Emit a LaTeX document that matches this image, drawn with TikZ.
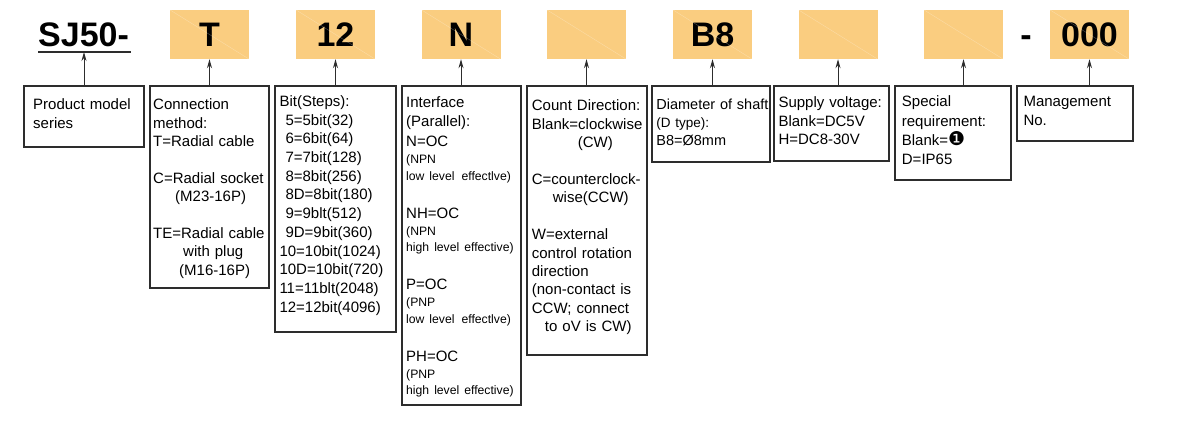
\documentclass[tikz,border=0pt]{standalone}
\usepackage{fontspec}
\setmainfont{Liberation Sans}
\newfontfamily\dingfont{DejaVu Sans}
\usetikzlibrary{arrows.meta}

\definecolor{codefill}{RGB}{250,205,128}
\definecolor{lineclr}{RGB}{45,45,45}

\newcommand{\bodyfont}{\fontsize{15}{18.5}\selectfont}
\newcommand{\smallfont}{\fontsize{12.2}{18.5}\selectfont}
\newcommand{\codefont}{\fontsize{34}{40}\selectfont\bfseries}

\begin{document}
\begin{tikzpicture}[x=1pt,y=-1pt]
\path[use as bounding box,fill=white] (0,0) rectangle (1182,427);

% model code
\node[anchor=base west,inner sep=0,font=\codefont] (sj) at (38,46.7) {SJ50-};
\coordinate (ulL) at (38,52);
\coordinate (ulM) at (84,52);
\coordinate (ulR) at (131,52);
\draw[lineclr,line width=1.3pt] (ulL) -- (ulR);
\begin{scope}[every node/.style={fill=codefill,minimum width=79pt,minimum height=49pt,inner sep=0,font=\codefont}]
    \node (cT) at (209.5,34.5) {T};
    \node (c12) at (335.5,34.5) {12};
    \node (cN) at (461,34.5) {N};
    \node (cDir) at (586.5,34.5) {};
    \node (cB8) at (712.5,34.5) {B8};
    \node (cVolt) at (838,34.5) {};
    \node (cSpec) at (963.5,34.5) {};
    \node (c000) at (1089.5,34.5) {000};
\end{scope}
\node[anchor=base,inner sep=0,font=\codefont] (dash) at (1026,46.7) {-};
\foreach \c in {cT,c12,cN,cDir,cB8,cVolt,cSpec,c000}
    \draw[white,opacity=.3] (\c.north west) -- (\c.south east);

% description boxes
\begin{scope}[every node/.style={draw=lineclr,line width=1.2pt,anchor=north west,inner sep=0,outer sep=0}]
    \node[minimum width=120pt,minimum height=61pt] (bSeries) at (24,86) {};
    \node[minimum width=119pt,minimum height=202pt] (bConn) at (150,86) {};
    \node[minimum width=121pt,minimum height=246pt] (bBits) at (275,86) {};
    \node[minimum width=119pt,minimum height=319pt] (bIface) at (402,86) {};
    \node[minimum width=120pt,minimum height=269pt] (bDir) at (527,86) {};
    \node[minimum width=118pt,minimum height=76pt] (bShaft) at (652,86) {};
    \node[minimum width=115pt,minimum height=75pt] (bVolt) at (774,86) {};
    \node[minimum width=116pt,minimum height=94pt] (bSpec) at (895,86) {};
    \node[minimum width=116pt,minimum height=55pt] (bMgmt) at (1017,86) {};
\end{scope}

\begin{scope}[every node/.style={anchor=base west,inner sep=0,text width=140pt,align=left,font=\bodyfont}]
    \node (tSeries) at (33,110) {Product model\\series};
    \node (tConn) at (153,110) {Connection\\method:\\T=Radial cable\\[18pt]
        C=Radial socket\\\hspace*{22pt}(M23-16P)\\[18pt]
        TE=Radial cable\\\hspace*{30pt}with plug\\\hspace*{26pt}(M16-16P)};
    \node[font=\fontsize{15}{18.7}\selectfont] (tBits) at (279.3,106.5) {Bit(Steps):\\
        \hspace*{6pt}5=5bit(32)\\\hspace*{6pt}6=6bit(64)\\\hspace*{6pt}7=7bit(128)\\
        \hspace*{6pt}8=8bit(256)\\\hspace*{6pt}8D=8bit(180)\\\hspace*{6pt}9=9blt(512)\\
        \hspace*{6pt}9D=9bit(360)\\10=10bit(1024)\\10D=10bit(720)\\
        11=11blt(2048)\\12=12bit(4096)};
    \node (tIface) at (406,107.3) {Interface\\[1pt]
        (Parallel):\\[1.5pt]
        N=OC\\[-1.5pt]
        {\smallfont (NPN\\[-2pt]low level\hspace{2pt} effectlve)}\\[19.5pt]
        NH=OC\\[-1.5pt]
        {\smallfont (NPN\\[-2pt]high level effective)}\\[19.5pt]
        P=OC\\[-1.5pt]
        {\smallfont (PNP\\[-2pt]low level\hspace{2pt} effectlve)}\\[19.5pt]
        PH=OC\\[-1.5pt]
        {\smallfont (PNP\\[-2pt]high level effective)}};
    \node[font=\fontsize{15}{18.4}\selectfont] (tDir) at (531.7,111) {Count Direction:\\
        Blank=clockwise\\\hspace*{46pt}(CW)\\[18.4pt]
        C=counterclock-\\\hspace*{21pt}wise(CCW)\\[18.4pt]
        W=external\\control rotation\\direction\\(non-contact is\\
        CCW; connect\\\hspace*{13pt}to oV is CW)};
    \node[font=\fontsize{14.5}{18}\selectfont] (tShaft) at (656.2,109.5) {Diameter of shaft\\
        {\fontsize{13.5}{18}\selectfont (D type):}\\B8=Ø8mm};
    \node[font=\fontsize{15}{18.3}\selectfont] (tVolt) at (778.3,108) {Supply voltage:\\Blank=DC5V\\H=DC8-30V};
    \node[font=\fontsize{15}{19.3}\selectfont] (tSpec) at (901.7,107) {Special\\requirement:\\
        Blank={\dingfont\fontsize{19}{19.3}\selectfont ❶}\\D=IP65};
    \node[font=\fontsize{15}{19}\selectfont] (tMgmt) at (1023.3,106.5) {Management\\No.};
\end{scope}

% pointers
\begin{scope}[>={Stealth[length=9pt,width=5pt]},
              arrow_line/.style={draw=lineclr,line width=1pt}]
    \path [->] (bSeries.north) edge [arrow_line] (ulM);
    \path [->] (cT |- bConn.north) edge [arrow_line] (cT);
    \path [->] (c12 |- bBits.north) edge [arrow_line] (c12);
    \path [->] (cN |- bIface.north) edge [arrow_line] (cN);
    \path [->] (cDir |- bDir.north) edge [arrow_line] (cDir);
    \path [->] (cB8 |- bShaft.north) edge [arrow_line] (cB8);
    \path [->] (cVolt |- bVolt.north) edge [arrow_line] (cVolt);
    \path [->] (cSpec |- bSpec.north) edge [arrow_line] (cSpec);
    \path [->] (c000 |- bMgmt.north) edge [arrow_line] (c000);
\end{scope}
\end{tikzpicture}
\end{document}
